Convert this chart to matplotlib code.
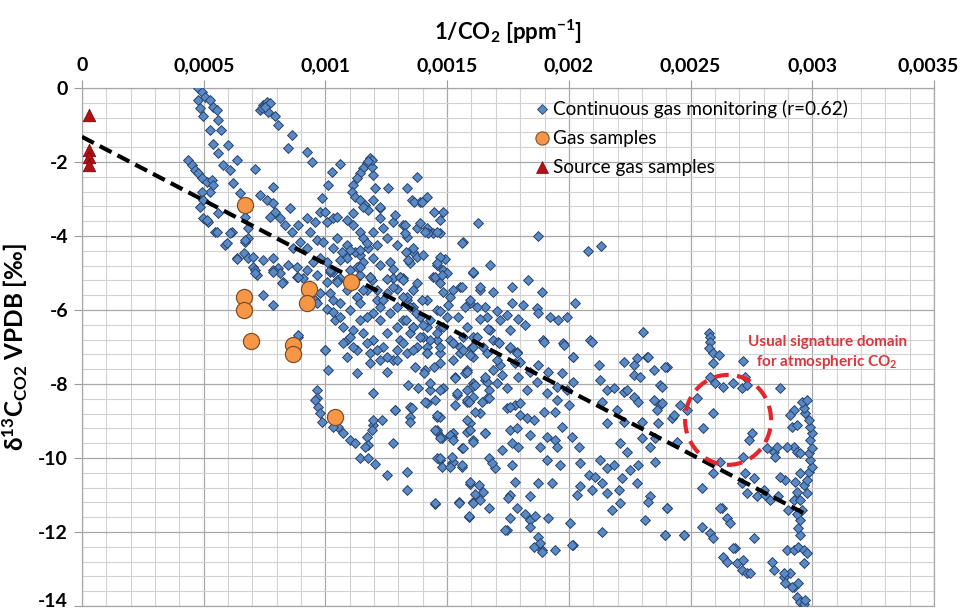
import numpy as np
import matplotlib
matplotlib.use("Agg")
import matplotlib.pyplot as plt
import matplotlib.transforms as mtransforms
from matplotlib.patches import Ellipse
from matplotlib.lines import Line2D
from matplotlib.ticker import MultipleLocator

plt.rcParams['font.family'] = ['Lato', 'DejaVu Sans']
plt.rcParams['mathtext.fontset'] = 'custom'
plt.rcParams['mathtext.rm'] = 'Lato:bold'
plt.rcParams['mathtext.it'] = 'Lato:bold'
plt.rcParams['mathtext.bf'] = 'Lato:bold'
plt.rcParams['axes.unicode_minus'] = False

# x values are 1/CO2 in units of 1e-4 ppm^-1, y values are d13C in permil
X_UNIT = 1e-4

# continuous gas monitoring
mon_loop1 = [(4.78, -0.01), (4.91, -0.1), (5.05, -0.23), (4.78, -0.32), (5.25, -0.32), (5.39, -0.5), (4.84, -0.55),
             (5.53, -0.6), (4.98, -0.77), (5.6, -0.87), (5.25, -1.14), (5.73, -1.14), (5.39, -1.5), (6.01, -1.54),
             (5.6, -1.77), (5.8, -2.08), (6.08, -2.22), (6.35, -1.95), (7.1, -2.19), (6.21, -2.58), (6.49, -2.85),
             (4.36, -1.95), (4.5, -2.08), (4.64, -2.22), (4.78, -2.31), (4.91, -2.44), (5.12, -2.53), (5.32, -2.49),
             (5.39, -2.62), (5.25, -2.8), (4.91, -2.8), (4.98, -3.03), (4.84, -3.21), (4.98, -3.52), (5.19, -3.61),
             (5.46, -3.88), (6.15, -3.88), (5.87, -4.24), (6.35, -4.6), (6.69, -4.15), (6.83, -4.06), (6.69, -3.48),
             (6.83, -3.79), (5.12, -3.57), (5.6, -3.39), (5.53, -3.89), (5.95, -4.2), (6.08, -3.93), (6.38, -4.63),
             (6.67, -4.47), (6.7, -4.11)]

mon_loop2 = [(7.31, -0.6), (7.45, -0.46), (7.58, -0.37), (7.72, -0.41), (7.65, -0.64), (7.93, -0.77), (8.06, -1.0),
             (8.61, -1.27), (8.47, -1.63), (9.23, -1.72), (9.43, -1.99), (10.6, -2.06), (10.25, -2.26), (10.12, -2.62),
             (9.84, -2.98), (7.4, -0.55), (7.52, -0.5)]

mon_loop3 = [(11.83, -1.9), (11.69, -2.04), (11.56, -2.17), (11.42, -2.31), (11.28, -2.44), (11.15, -2.62),
             (11.08, -2.8), (11.21, -2.94), (11.42, -3.03), (11.62, -3.16), (11.76, -3.3), (11.97, -3.03),
             (12.04, -2.71), (11.97, -2.35), (11.9, -2.13), (11.9, -1.95), (11.75, -1.97), (12.24, -3.25),
             (12.58, -2.71), (12.79, -3.61), (12.24, -3.52), (13.34, -2.71), (13.54, -3.03), (13.75, -2.4),
             (13.2, -3.7), (13.34, -4.02), (13.41, -4.65), (13.75, -3.79), (13.2, -5.14), (12.93, -4.24),
             (13.61, -4.42), (13.88, -3.07), (14.16, -2.94), (14.84, -3.34), (14.7, -3.57), (14.16, -3.79),
             (14.43, -3.93), (14.7, -3.93), (16.28, -3.66), (15.66, -4.15), (18.74, -4.0), (20.8, -4.41),
             (21.32, -4.27)]

mon_band = [(7.31, -2.89), (7.58, -3.03), (7.86, -3.12), (7.93, -3.34), (7.72, -3.48), (8.13, -3.52), (7.86, -2.67),
            (8.54, -3.25), (8.34, -3.7), (8.61, -3.88), (8.88, -3.7), (9.23, -3.52), (9.57, -3.61), (9.36, -3.88),
            (9.64, -4.11), (8.95, -4.15), (8.68, -4.33), (9.23, -4.33), (9.91, -4.15), (9.78, -3.34), (10.05, -3.61),
            (10.32, -3.52), (6.83, -4.6), (7.04, -4.83), (7.17, -5.05), (7.45, -4.65), (7.86, -4.6), (8.06, -4.87),
            (8.47, -4.78), (8.82, -4.83), (9.23, -4.92), (9.64, -5.05), (10.05, -4.69), (10.32, -4.96),
            (10.87, -3.57), (11.15, -3.7), (11.42, -3.88), (11.56, -4.06), (11.76, -4.33), (10.46, -4.06),
            (10.32, -4.33), (10.67, -4.42), (10.87, -4.6), (11.28, -4.83), (11.42, -5.05), (11.83, -5.1),
            (11.42, -4.51), (12.24, -4.78), (9.78, -4.6), (10.19, -4.96), (10.6, -5.14), (11.01, -5.23),
            (10.87, -4.24), (11.21, -4.42), (11.56, -4.69), (11.97, -4.6), (12.1, -4.24), (12.52, -4.06),
            (12.65, -4.69), (12.79, -5.14), (12.38, -3.79), (11.97, -3.88), (9.5, -4.69), (9.09, -5.14),
            (10.05, -5.23), (9.99, -3.35), (10.47, -3.48), (11.15, -3.39), (11.56, -3.21), (12.25, -3.21),
            (12.86, -3.44), (13.27, -3.71), (13.62, -3.08), (13.96, -3.08), (14.44, -3.35), (13.27, -3.93),
            (14.23, -3.93), (14.58, -3.89), (13.89, -3.66), (14.1, -3.89), (13.75, -4.56), (14.58, -4.79),
            (14.92, -4.61), (16.08, -4.97), (15.6, -4.2), (14.85, -4.92), (13.75, -5.28), (13.48, -4.74),
            (12.79, -4.88), (13.07, -5.1), (12.93, -5.42), (13.34, -5.73), (12.52, -5.15), (11.9, -5.19),
            (10.19, -4.92), (10.47, -5.19), (11.01, -4.92), (11.42, -4.83), (11.42, -4.38), (11.7, -4.2),
            (11.01, -4.38), (10.6, -4.65), (9.78, -5.55), (10.33, -5.73), (11.29, -5.64), (11.7, -5.46),
            (12.11, -5.73), (7.11, -4.92), (7.04, -4.56), (7.45, -5.6), (7.86, -5.87), (7.86, -4.92),
            (8.14, -5.01), (8.27, -5.24), (8.82, -5.1), (8.89, -6.72), (9.58, -5.73)]

mon_core = [(7.11, -5.01), (7.86, -4.97), (8.2, -5.28), (8.89, -5.1), (9.64, -5.82), (10.05, -5.96), (10.39, -6.27),
            (9.98, -7.08), (8.89, -6.68), (10.46, -5.24), (10.87, -5.46), (11.28, -5.64), (10.6, -5.82), (11.01, -6.0),
            (11.42, -5.82), (11.83, -5.1), (12.11, -5.46), (12.38, -5.73), (12.79, -5.37), (13.07, -5.1),
            (13.34, -5.64), (13.61, -5.91), (13.89, -6.18), (14.16, -6.45), (11.97, -6.09), (12.24, -6.27),
            (12.65, -6.09), (12.93, -6.45), (12.52, -6.63), (13.07, -6.81), (13.48, -6.63), (13.75, -6.99),
            (13.34, -7.17), (12.93, -7.08), (12.38, -6.99), (11.97, -6.81), (11.56, -6.63), (11.15, -6.54),
            (10.74, -6.45), (10.87, -6.81), (11.28, -7.08), (11.83, -7.17), (12.24, -7.35), (12.79, -7.35),
            (14.16, -6.99), (14.57, -6.81), (14.71, -6.45), (14.98, -6.18), (14.57, -6.0), (14.16, -5.73),
            (14.71, -5.28), (15.12, -5.64), (15.53, -5.37), (15.94, -5.82), (16.35, -5.46), (16.63, -6.18),
            (16.76, -6.54), (16.08, -6.72), (15.53, -6.99), (15.26, -7.35), (16.08, -7.26), (16.49, -6.99),
            (16.9, -6.81), (14.98, -5.01), (14.43, -5.1), (16.08, -5.01), (10.19, -5.55), (10.33, -6.05),
            (11.56, -5.46), (11.7, -6.18), (12.52, -5.55), (12.93, -5.91), (13.61, -5.46), (14.02, -6.72),
            (11.42, -6.27), (12.24, -5.91), (13.2, -6.27), (13.61, -6.45), (10.6, -6.18), (11.01, -6.72),
            (11.7, -6.9), (12.52, -7.26), (12.11, -7.08), (13.61, -4.33), (13.33, -4.42), (14.02, -4.51),
            (13.4, -4.65), (14.7, -4.56), (14.57, -4.74), (16.76, -4.78), (16.07, -4.96), (14.5, -5.1),
            (14.77, -5.05), (18.33, -5.19), (16.35, -5.37), (16.9, -5.5), (15.59, -5.37), (17.65, -5.37),
            (18.88, -5.5), (14.84, -5.5), (15.25, -5.46), (13.2, -5.19), (13.95, -5.73), (15.73, -5.91),
            (16.55, -5.91), (17.03, -6.04), (17.65, -5.82), (18.13, -5.86), (18.68, -5.95), (20.25, -5.82),
            (19.22, -6.18), (19.57, -6.27), (19.91, -6.18), (18.74, -6.09), (14.7, -6.04), (15.05, -5.86),
            (16.35, -6.23), (16.69, -6.5), (17.44, -6.14), (17.92, -6.23), (18.2, -6.41), (15.46, -6.18),
            (15.8, -6.45), (16.21, -6.72), (17.17, -6.27), (17.58, -6.54), (17.1, -6.86), (17.58, -7.04),
            (17.85, -7.13), (18.95, -6.81), (19.77, -6.9), (20.87, -6.81), (23.06, -6.59), (23.2, -7.26),
            (20.18, -7.26), (16.0, -7.04), (15.25, -6.9), (13.2, -5.64), (13.47, -5.91), (13.74, -6.09),
            (13.33, -6.27), (13.61, -6.45), (14.02, -6.41), (14.29, -6.27), (13.88, -6.72), (14.29, -6.81),
            (14.57, -6.63), (14.84, -6.45), (15.11, -6.81), (13.2, -6.9), (13.61, -7.08), (14.16, -7.17),
            (14.7, -7.17), (15.53, -7.17), (15.66, -6.72), (15.94, -5.73), (16.21, -5.91)]

mon_lower_left = [(10.12, -7.62), (9.64, -8.16), (9.64, -8.39), (9.71, -8.61), (9.78, -8.79), (9.85, -9.02),
                  (10.53, -9.15), (10.74, -9.33), (11.01, -9.51), (11.22, -9.6), (11.7, -9.42), (11.76, -9.65),
                  (11.97, -9.11), (11.97, -8.97), (11.42, -10.01), (11.76, -10.01), (12.04, -10.15), (12.79, -9.6),
                  (12.86, -8.7), (13.48, -8.88), (13.48, -8.61), (11.97, -8.25), (11.28, -7.71), (11.83, -7.44),
                  (10.87, -7.26), (11.15, -6.99), (10.74, -6.9), (12.52, -7.67), (12.93, -7.35), (13.41, -8.03),
                  (13.82, -8.12), (14.16, -8.52), (14.57, -8.88), (14.57, -9.29), (14.78, -9.47), (15.26, -9.33),
                  (15.8, -9.29), (14.71, -10.05), (15.19, -10.14), (15.6, -10.23), (16.56, -9.33), (16.35, -8.79),
                  (15.94, -9.06), (16.08, -8.34), (16.63, -8.39), (16.7, -8.16), (15.8, -8.48), (15.39, -8.3),
                  (15.33, -7.8), (15.8, -7.62), (16.08, -7.98), (16.56, -7.89), (16.9, -7.62), (14.71, -7.44),
                  (14.09, -7.62), (13.68, -7.53), (14.85, -8.12), (14.3, -8.16), (12.52, -10.46), (13.34, -10.37),
                  (13.34, -10.87), (14.51, -11.23), (15.47, -11.18), (15.88, -11.59), (12.32, -8.98), (12.86, -8.71),
                  (11.9, -9.25), (11.63, -9.7), (13.55, -8.66), (13.48, -9.02), (14.58, -9.25), (14.71, -8.89),
                  (14.58, -10.01), (14.78, -10.24), (15.26, -10.1), (15.19, -9.43), (15.6, -9.74), (15.81, -8.44),
                  (16.01, -8.07), (15.74, -7.71), (16.08, -9.52), (15.94, -10.69), (16.15, -10.96), (16.08, -11.18),
                  (10.33, -9.16), (9.99, -7.08), (9.58, -8.44)]

mon_lower_mid = [(14.16, -7.17), (14.71, -6.99), (15.26, -6.9), (15.67, -7.08), (16.08, -6.99), (14.44, -7.53),
                 (14.03, -7.71), (14.3, -7.98), (14.71, -8.16), (14.1, -8.48), (14.51, -8.43), (15.33, -7.85),
                 (15.81, -7.67), (15.94, -7.22), (16.63, -7.17), (17.11, -6.9), (17.59, -6.99), (17.86, -7.17),
                 (17.18, -7.49), (17.04, -7.98), (16.63, -7.94), (16.15, -8.03), (15.81, -8.16), (15.4, -8.25),
                 (15.33, -8.57), (15.88, -8.48), (16.42, -8.48), (16.7, -8.39), (16.15, -8.75), (15.81, -8.97),
                 (15.94, -9.24), (15.12, -9.38), (15.26, -9.51), (14.71, -9.47), (14.51, -9.24), (14.57, -8.84),
                 (15.67, -9.74), (16.08, -9.56), (16.56, -9.33), (17.25, -9.78), (17.66, -9.6), (17.93, -9.69),
                 (17.59, -9.24), (17.45, -8.66), (17.79, -8.57), (18.0, -8.84), (18.27, -8.93), (18.55, -8.97),
                 (18.41, -9.38), (17.86, -9.2), (18.96, -8.75), (19.44, -8.75), (19.1, -9.42), (19.44, -9.51),
                 (19.71, -9.15), (20.12, -9.42), (20.4, -9.69), (18.82, -9.69), (19.51, -9.69), (14.71, -10.01),
                 (15.19, -9.96), (15.12, -10.23), (15.6, -10.19), (16.7, -10.01), (16.97, -10.28), (16.83, -10.14),
                 (17.66, -10.19), (19.1, -10.05), (19.64, -10.19), (20.47, -10.14), (20.81, -10.46), (21.08, -10.5),
                 (21.29, -10.05), (21.56, -10.28), (21.84, -10.19), (21.36, -10.68), (20.94, -10.86), (20.47, -10.77),
                 (20.33, -11.0), (21.56, -10.95), (22.04, -10.86), (22.18, -10.55), (22.52, -10.32), (22.86, -10.19),
                 (22.79, -10.68), (23.34, -11.04), (23.27, -11.18), (23.55, -10.1), (23.34, -9.69), (22.38, -9.83),
                 (22.11, -9.6), (15.94, -10.64), (16.29, -10.73), (16.49, -10.91), (16.36, -11.13), (16.08, -11.22),
                 (16.7, -11.36), (15.47, -11.22), (14.51, -11.22), (15.88, -11.58), (17.79, -10.64), (17.59, -11.0),
                 (17.52, -11.09), (18.41, -11.04), (18.75, -10.68), (19.3, -10.68), (17.86, -11.36), (18.2, -11.5),
                 (18.41, -11.68), (18.62, -11.58), (17.59, -11.63), (17.45, -11.95), (18.41, -11.86), (18.75, -12.13),
                 (18.55, -12.4), (18.89, -12.49), (19.44, -12.49), (18.82, -12.31), (20.05, -11.77), (20.19, -12.35),
                 (19.16, -11.63), (21.36, -11.99), (21.77, -11.4), (22.11, -11.22), (23.14, -11.68), (24.03, -11.36),
                 (23.96, -12.08), (24.71, -12.08), (21.29, -7.89), (21.56, -8.16), (21.84, -8.12), (22.25, -8.21),
                 (22.38, -8.16), (22.66, -8.34), (22.86, -8.48), (23.48, -8.43), (23.75, -8.57), (23.62, -8.7),
                 (23.68, -9.06), (23.0, -9.02), (22.25, -9.02), (21.56, -9.06), (21.97, -8.7), (21.36, -8.48),
                 (21.22, -7.49), (22.25, -7.4), (22.66, -7.49), (22.79, -7.31), (23.27, -7.26), (23.48, -7.62),
                 (22.66, -7.76), (22.93, -7.8), (24.03, -7.53), (23.75, -8.03), (24.23, -8.93), (24.44, -9.56),
                 (23.55, -9.47), (23.0, -9.47), (19.71, -7.71), (20.19, -7.94), (19.92, -8.16), (19.51, -8.07),
                 (19.1, -8.25), (18.68, -7.94), (18.27, -8.16), (18.0, -8.52), (17.59, -8.61), (19.51, -8.43),
                 (19.99, -8.57), (20.19, -7.26), (19.78, -6.95), (18.96, -6.86), (20.94, -6.86), (18.75, -7.49),
                 (19.16, -7.67), (18.41, -7.67), (17.93, -7.8), (17.45, -8.12), (16.56, -7.8), (17.25, -7.76),
                 (17.79, -7.44), (18.0, -7.4), (17.04, -7.35), (20.12, -12.35), (17.38, -11.95), (18.88, -12.53)]

mon_right = [(25.74, -6.63), (25.78, -6.72), (25.8, -6.86), (25.74, -7.04), (25.94, -7.17), (26.15, -7.22),
             (25.91, -7.42), (27.17, -7.37), (25.8, -7.8), (26.01, -7.98), (26.35, -8.07), (26.76, -7.98),
             (27.1, -8.12), (27.31, -8.03), (27.24, -7.8), (28.68, -8.12), (25.26, -8.39), (24.57, -8.57),
             (24.85, -8.7), (24.3, -8.84), (23.96, -7.53), (23.82, -8.07), (23.82, -8.52), (25.94, -8.79),
             (25.53, -9.2), (27.52, -9.33), (27.38, -9.51), (27.17, -9.96), (26.22, -10.1), (25.94, -10.41),
             (25.46, -10.82), (27.24, -10.41), (27.1, -10.68), (27.59, -10.55), (27.31, -10.95), (27.72, -11.04),
             (28.07, -11.0), (28.27, -11.14), (28.61, -11.04), (28.0, -10.86), (28.13, -9.74), (28.41, -9.83),
             (28.48, -9.96), (28.54, -9.69), (24.02, -11.36), (23.96, -12.08), (24.71, -12.08), (26.28, -11.36),
             (26.49, -11.63), (26.63, -11.77), (25.46, -11.86), (25.8, -12.04), (25.94, -12.17), (27.59, -12.17),
             (26.83, -12.44), (26.35, -12.67), (26.49, -12.8), (26.9, -12.85), (27.1, -13.03), (27.31, -13.12),
             (27.17, -12.76), (28.34, -12.8), (28.41, -13.03), (28.82, -13.21), (28.89, -13.39), (29.09, -13.12),
             (29.23, -13.48), (29.43, -13.39), (29.37, -13.75), (29.5, -13.88), (29.64, -13.95), (29.71, -13.84),
             (28.96, -12.49), (29.23, -12.49), (29.43, -12.4), (29.64, -12.49), (29.78, -12.58), (29.64, -12.85),
             (29.5, -12.08), (29.43, -11.9), (29.5, -11.68), (29.37, -11.5), (29.57, -11.41), (29.02, -11.41),
             (29.23, -11.14), (29.5, -11.14), (29.78, -10.95), (29.37, -10.91), (29.64, -10.73), (29.78, -10.59),
             (29.3, -10.64), (28.89, -10.59), (28.68, -10.5), (29.5, -10.41), (29.85, -10.37), (29.98, -10.23),
             (29.91, -10.05), (29.85, -9.87), (29.98, -9.74), (29.91, -9.51), (29.98, -9.33), (29.91, -9.15),
             (29.85, -8.97), (29.71, -8.79), (29.64, -8.66), (29.57, -8.48), (29.78, -8.43), (29.23, -8.7),
             (29.09, -8.84), (29.16, -9.15), (29.37, -9.11), (29.23, -9.69), (29.37, -9.83), (29.5, -9.87),
             (28.96, -9.69), (26.21, -11.36), (26.76, -12.44), (27.45, -13.12), (28.82, -13.12), (29.16, -13.48)]

# discrete gas samples
gas_x = [6.7, 6.66, 6.66, 6.94, 8.68, 8.68, 9.33, 9.25, 10.4, 11.05]
gas_y = [-3.16, -5.65, -6.0, -6.84, -6.95, -7.19, -5.43, -5.81, -8.89, -5.24]

# source gas samples
src_x = [0.3, 0.3, 0.3, 0.3]
src_y = [-0.73, -1.68, -1.86, -2.08]

# regression line shown in the chart
trend_intercept = -1.32
trend_slope = -3430.0
trend_x_end = 0.00298

x_ticks = [0, 0.0005, 0.001, 0.0015, 0.002, 0.0025, 0.003, 0.0035]
x_tick_labels = ["0", "0,0005", "0,001", "0,0015", "0,002", "0,0025", "0,003", "0,0035"]
y_ticks = [0, -2, -4, -6, -8, -10, -12, -14]

monitoring = mon_loop1 + mon_loop2 + mon_loop3 + mon_band + mon_core + mon_lower_left + mon_lower_mid + mon_right
mon_x = np.array([p[0] for p in monitoring]) * X_UNIT
mon_y = np.array([p[1] for p in monitoring])

fig = plt.figure(figsize=(9.63, 6.14), dpi=100)
ax = fig.add_axes([82 / 963, 8 / 614, 852 / 963, 518 / 614])

ax.scatter(mon_x, mon_y, marker='D', s=25, facecolor='#5a8ac6', edgecolor='#27426b', linewidth=0.7, zorder=3)
tx = np.array([0, trend_x_end])
ax.plot(tx, trend_intercept + trend_slope * tx, color='black', lw=3, ls=(0, (3.2, 1.6)), zorder=3.5)
ax.scatter(np.array(gas_x) * X_UNIT, gas_y, marker='o', s=135, facecolor='#f79646', edgecolor='#7f5025',
           linewidth=0.9, zorder=4)
ax.scatter(np.array(src_x) * X_UNIT, src_y, marker='^', s=80, facecolor='#b40f14', edgecolor='#7a0a0d',
           linewidth=0.6, zorder=4)

ax.add_patch(Ellipse((0.002654, -8.97), width=0.000353, height=2.43, fill=False, edgecolor='#e3262d',
                     lw=3, ls=(0, (3.5, 2)), zorder=5))
ax.text(0.003061, -7.16, "Usual signature domain\nfor atmospheric CO$_2$", color='#d9363e', fontsize=11,
        fontweight='bold', ha='center', va='center', linespacing=1.25, zorder=6)

ax.set_xlim(0, 0.0035)
ax.set_ylim(-14, 0)
ax.xaxis.tick_top()
ax.xaxis.set_label_position('top')
ax.set_xticks(x_ticks)
ax.set_xticklabels(x_tick_labels)
ax.set_yticks(y_ticks)
ax.xaxis.set_minor_locator(MultipleLocator(0.0001))
ax.yaxis.set_minor_locator(MultipleLocator(0.4))
ax.grid(which='major', color='#a8a8a8', lw=0.9)
ax.grid(which='minor', color='#d2d2d2', lw=0.8)
ax.set_axisbelow(True)
ax.tick_params(which='minor', length=0)
ax.tick_params(axis='x', which='major', length=6, color='#9a9a9a', labelsize=14, pad=4)
ax.tick_params(axis='y', which='major', length=6, color='#9a9a9a', labelsize=14, pad=4)
for lab in ax.get_xticklabels() + ax.get_yticklabels():
    lab.set_fontweight('bold')
# keep the edge labels (-14 and 0,0035) inside the figure
bottom_lab = ax.get_yticklabels()[-1]
bottom_lab.set_transform(bottom_lab.get_transform() +
                         mtransforms.ScaledTranslation(0, 4 / 72, fig.dpi_scale_trans))
right_lab = ax.get_xticklabels()[-1]
right_lab.set_transform(right_lab.get_transform() +
                        mtransforms.ScaledTranslation(-4 / 72, 0, fig.dpi_scale_trans))
for sp in ax.spines.values():
    sp.set_color('#a8a8a8')
    sp.set_linewidth(0.9)

ax.set_xlabel("1/CO$_2$ [ppm$^{-1}$]", fontsize=16, fontweight='bold', labelpad=12)
ax.set_ylabel("δ$^{13}$C$_{\\mathrm{CO2}}$ VPDB [‰]", fontsize=17.5, fontweight='bold', labelpad=6)

handles = [Line2D([], [], ls='none', marker='D', ms=5, mfc='#5a8ac6', mec='#27426b', mew=0.6),
           Line2D([], [], ls='none', marker='o', ms=9.5, mfc='#f79646', mec='#7f5025', mew=0.8),
           Line2D([], [], ls='none', marker='^', ms=8.5, mfc='#b40f14', mec='#7a0a0d', mew=0.5)]
ax.legend(handles, ["Continuous gas monitoring (r=0.62)", "Gas samples", "Source gas samples"],
          loc='upper left', bbox_to_anchor=(0.532, 0.976), frameon=False, fontsize=13.7,
          handlelength=0.7, handletextpad=0.25, labelspacing=0.63, borderpad=0, borderaxespad=0)

fig.savefig("out.png", dpi=100)
